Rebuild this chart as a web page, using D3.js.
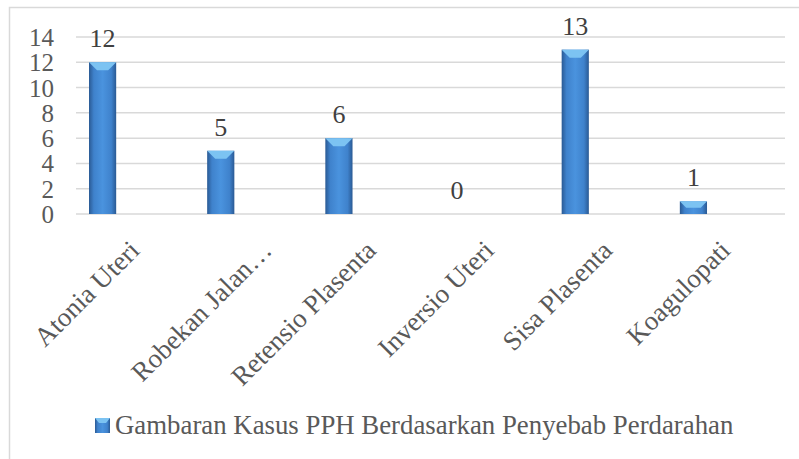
<!DOCTYPE html>
<html><head><meta charset="utf-8">
<script src="https://cdn.jsdelivr.net/npm/d3@7"></script>
<style>html,body{margin:0;padding:0;background:#fff;}</style>
</head><body>
<svg id="c" width="799" height="459"></svg>
<script>
const categories = ["Atonia Uteri","Robekan Jalan\u2026","Retensio Plasenta","Inversio Uteri","Sisa Plasenta","Koagulopati"];
const values = [12,5,6,0,13,1];
const yTicks = [0,2,4,6,8,10,12,14];
const seriesName = "Gambaran Kasus PPH Berdasarkan Penyebab Perdarahan";

const svg = d3.select("#c");
const font = "'Liberation Serif','Times New Roman',serif";
const defs = svg.append("defs");
const g1 = defs.append("linearGradient").attr("id","barg").attr("x1","0").attr("x2","1").attr("y1","0").attr("y2","0");
[[0,"#2a5a94"],[0.18,"#3f82cc"],[0.5,"#4a93de"],[0.82,"#3f82cc"],[1,"#2a5a94"]].forEach(s=>g1.append("stop").attr("offset",s[0]).attr("stop-color",s[1]));

// border
svg.append("path").attr("d","M9.5,459 V7.5 H799").attr("fill","none").attr("stroke","#d9d9d9").attr("stroke-width",1.5);

const x = d3.scaleBand().domain(categories).range([76,785]).paddingInner(0).paddingOuter(0);
const y = d3.scaleLinear().domain([0,14]).range([214,37]);

// gridlines
svg.append("g").selectAll("line").data(yTicks).join("line")
  .attr("x1",76).attr("x2",785).attr("y1",d=>y(d)).attr("y2",d=>y(d))
  .attr("stroke","#d9d9d9").attr("stroke-width",1.5);

// y axis
const ya = svg.append("g").attr("transform","translate(54,0)")
  .call(d3.axisLeft(y).tickValues(yTicks).tickSize(0).tickPadding(0));
ya.select(".domain").remove();
ya.selectAll("text").attr("font-family",font).attr("font-size",25).attr("fill","#595959").attr("dy","0.34em");

const bw = x.bandwidth();
const barW = bw*0.23, barOff = bw*0.11;
const bars = svg.append("g").selectAll("g").data(values.map((v,i)=>({c:categories[i],v}))).join("g");
bars.append("rect")
  .attr("x",d=>x(d.c)+barOff).attr("width",barW)
  .attr("y",d=>y(d.v)).attr("height",d=>y(0)-y(d.v))
  .attr("fill","url(#barg)");
bars.filter(d=>d.v>0).append("path")
  .attr("d",d=>{const x0=x(d.c)+barOff, y0=y(d.v), b=Math.min(8,(y(0)-y(d.v))/2);
    return `M${x0},${y0} H${x0+barW} L${x0+barW-b},${y0+b} H${x0+b} Z`;})
  .attr("fill","#7cc3f2");
// value labels
bars.append("text")
  .attr("x",d=>x(d.c)+barOff+barW/2).attr("y",d=>y(d.v)-15)
  .attr("text-anchor","middle").attr("font-family",font).attr("font-size",26).attr("fill","#404040")
  .text(d=>d.v);

// category labels
const xa = svg.append("g").attr("transform","translate(0,214)")
  .call(d3.axisBottom(x).tickSize(0).tickPadding(0));
xa.select(".domain").remove();
xa.selectAll("text")
  .attr("font-family",font).attr("font-size",27).attr("fill","#595959")
  .attr("text-anchor","end").attr("dy",0)
  .attr("transform",(d,i)=>`translate(${i===1?20:6},38) rotate(-45)`);

// legend
const lg = svg.append("g");
lg.append("rect").attr("x",95).attr("y",418).attr("width",15).attr("height",15).attr("fill","url(#barg)");
lg.append("path").attr("d","M95,418 H110 L106,423 H99 Z").attr("fill","#7cc3f2");
lg.append("text").attr("x",115).attr("y",434).attr("font-family",font).attr("font-size",26.8).attr("fill","#595959").text(seriesName);
</script>
</body></html>
